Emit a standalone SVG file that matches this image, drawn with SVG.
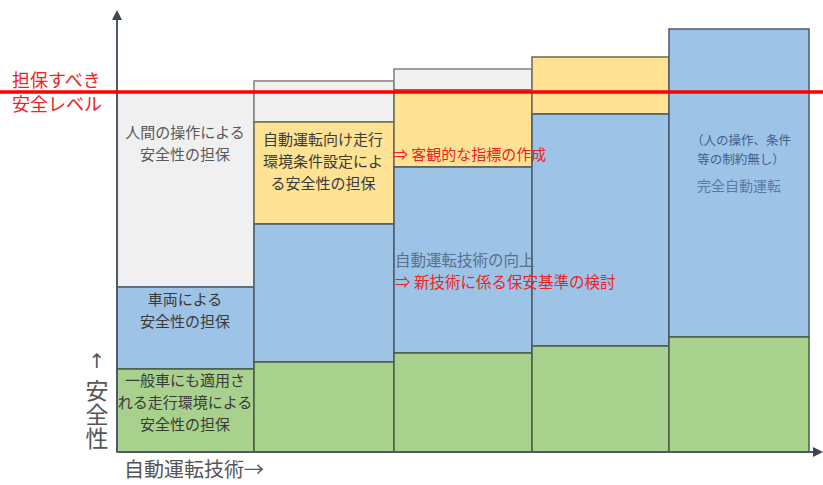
<svg xmlns="http://www.w3.org/2000/svg" width="823" height="485" viewBox="0 0 823 485">
<defs>
<style>
text{font-family:"Noto Sans CJK JP","Noto Sans CJK SC",sans-serif;}
.gray{fill:#f0f0f0;stroke:#7f7f7f;stroke-width:1.5}
.yel{fill:#ffe293;stroke:#6b6b52;stroke-width:1.5}
.blu{fill:#9dc3e6;stroke:#4a5a6a;stroke-width:1.5}
.grn{fill:#a9d18e;stroke:#4b5b45;stroke-width:1.5}
.lbl{font-size:15px;fill:#3a3a3a;text-anchor:middle}
.lblg{font-size:15px;fill:#595959;text-anchor:middle}
.red{fill:#ee2222}
.ax{stroke:#505a66;stroke-width:2;fill:none}
</style>
<marker id="ah" viewBox="0 0 10 10" refX="8" refY="5" markerWidth="5" markerHeight="5" orient="auto-start-reverse">
<path d="M0,0 L10,5 L0,10 z" fill="#3c4654"/>
</marker>
</defs>
<rect width="823" height="485" fill="#ffffff"/>

<g id="col1">
<rect class="gray" x="117" y="92" width="137" height="195"/>
<rect class="blu" x="117" y="287" width="137" height="82"/>
<rect class="grn" x="117" y="369" width="137" height="83"/>
<text class="lblg" x="185" y="138">人間の操作による</text>
<text class="lblg" x="185" y="160">安全性の担保</text>
<text class="lbl" x="185" y="305">車両による</text>
<text class="lbl" x="185" y="327">安全性の担保</text>
<text class="lbl" x="185" y="386">一般車にも適用さ</text>
<text class="lbl" x="185" y="408">れる走行環境による</text>
<text class="lbl" x="185" y="430">安全性の担保</text>
</g>

<g id="col2">
<rect class="gray" x="254" y="81" width="140" height="41"/>
<rect class="yel" x="254" y="122" width="140" height="102"/>
<rect class="blu" x="254" y="224" width="140" height="138"/>
<rect class="grn" x="254" y="362" width="140" height="90"/>
<text class="lbl" x="323" y="145">自動運転向け走行</text>
<text class="lbl" x="323" y="167">環境条件設定によ</text>
<text class="lbl" x="323" y="189">る安全性の担保</text>
</g>

<g id="col3">
<rect class="gray" x="394" y="69" width="138" height="21"/>
<rect class="yel" x="394" y="90" width="138" height="77"/>
<rect class="blu" x="394" y="167" width="138" height="186"/>
<rect class="grn" x="394" y="353" width="138" height="99"/>
</g>

<g id="col4">
<rect class="yel" x="532" y="57" width="137" height="57"/>
<rect class="blu" x="532" y="114" width="137" height="232"/>
<rect class="grn" x="532" y="346" width="137" height="106"/>
</g>

<g id="col5">
<rect class="blu" x="669" y="29" width="140" height="308"/>
<rect class="grn" x="669" y="337" width="140" height="115"/>
<text x="741" y="145" font-size="12.5" fill="#44618c" text-anchor="middle">（人の操作、条件</text>
<text x="741" y="164" font-size="12.5" fill="#44618c" text-anchor="middle">等の制約無し）</text>
<text x="739" y="191" font-size="14" fill="#5b7aa5" text-anchor="middle">完全自動運転</text>
</g>

<g id="notes">
<text class="red" x="393" y="160" font-size="15">⇒ 客観的な指標の作成</text>
<text x="395" y="266" font-size="15.5" fill="#5a6f8a">自動運転技術の向上</text>
<text class="red" x="395" y="288" font-size="15.5">⇒ 新技術に係る保安基準の検討</text>
</g>

<g id="connectors">
<line class="ax" x1="117" y1="452" x2="117" y2="12" marker-end="url(#ah)"/>
<line class="ax" x1="117" y1="452" x2="821" y2="452" marker-end="url(#ah)"/>
<line x1="0" y1="92" x2="823" y2="92" stroke="#ff0000" stroke-width="3.5"/>
</g>

<g id="level">
<text class="red" x="12" y="87" font-size="18">担保すべき</text>
<text class="red" x="12" y="111" font-size="18">安全レベル</text>
</g>

<g id="axis-labels">
<text x="97" y="368" font-size="20" fill="#555" text-anchor="middle" style="font-family:'DejaVu Sans',sans-serif">↑</text>
<text x="97" y="379" font-size="23" fill="#555" writing-mode="tb" letter-spacing="1">安全性</text>
<text x="124" y="477" font-size="20" fill="#555">自動運転技術→</text>
</g>
</svg>
